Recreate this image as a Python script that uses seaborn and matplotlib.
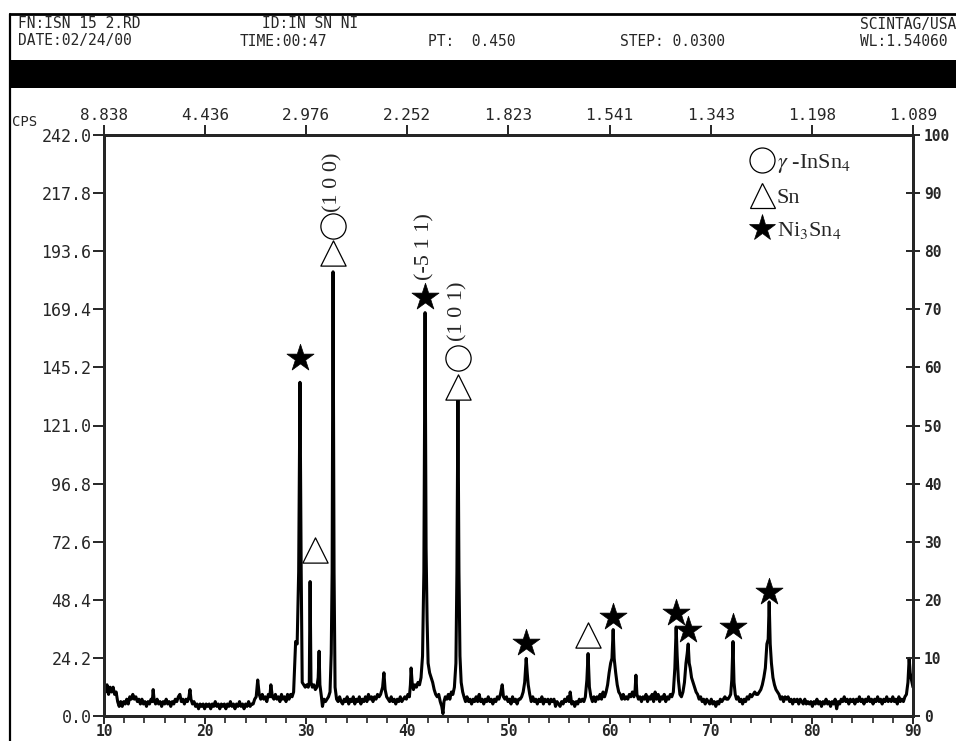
import numpy as np
import pandas as pd
import matplotlib
matplotlib.use("Agg")
import matplotlib.pyplot as plt
import seaborn as sns
from matplotlib.lines import Line2D
from matplotlib.patches import Rectangle

# ---------------- data ----------------
# XRD scan: (2-theta [deg], intensity [CPS])
scan = [
    (10.0, 12), (10.15, 10), (10.3, 13), (10.45, 9), (10.6, 12), (10.75, 10), (10.9, 12), (11.05, 9),
    (11.2, 10), (11.35, 6), (11.5, 4), (11.65, 6), (11.8, 4), (11.95, 6), (12.1, 5), (12.25, 7),
    (12.4, 5), (12.55, 8), (12.7, 7), (12.85, 9), (13.0, 7), (13.15, 8), (13.3, 6), (13.45, 7),
    (13.6, 5), (13.75, 7), (13.9, 5), (14.05, 6), (14.2, 4), (14.35, 6), (14.5, 5), (14.65, 7),
    (14.78, 6), (14.86, 11), (14.95, 7), (15.1, 5), (15.25, 7), (15.4, 5), (15.55, 6), (15.7, 4),
    (15.85, 6), (16.0, 5), (16.15, 7), (16.3, 5), (16.45, 6), (16.6, 4), (16.75, 6), (16.9, 5),
    (17.05, 7), (17.2, 6), (17.35, 8), (17.5, 9), (17.65, 6), (17.8, 7), (17.95, 5), (18.1, 7),
    (18.25, 6), (18.4, 8), (18.5, 11), (18.6, 7), (18.75, 5), (18.9, 6), (19.05, 4), (19.2, 5),
    (19.35, 3), (19.5, 5), (19.65, 4), (19.8, 5), (19.95, 3), (20.1, 5), (20.25, 4), (20.4, 5),
    (20.55, 3), (20.7, 5), (20.85, 4), (21.0, 6), (21.15, 4), (21.3, 5), (21.45, 3), (21.6, 5),
    (21.75, 4), (21.9, 5), (22.05, 3), (22.2, 5), (22.35, 4), (22.5, 6), (22.65, 4), (22.8, 5),
    (22.95, 3), (23.1, 5), (23.25, 4), (23.4, 6), (23.55, 4), (23.7, 5), (23.85, 3), (24.0, 5),
    (24.15, 4), (24.3, 6), (24.45, 4), (24.6, 5), (24.75, 5), (24.9, 7), (25.05, 8), (25.2, 15),
    (25.35, 9), (25.5, 7), (25.65, 9), (25.8, 7), (25.95, 8), (26.1, 6), (26.25, 9), (26.4, 8),
    (26.5, 13), (26.65, 8), (26.8, 7), (26.95, 9), (27.1, 7), (27.25, 8), (27.4, 6), (27.55, 9),
    (27.7, 7), (27.85, 8), (28.0, 6), (28.15, 9), (28.3, 7), (28.45, 9), (28.6, 8), (28.75, 10),
    (28.95, 31), (29.1, 30), (29.25, 60), (29.38, 139), (29.5, 60), (29.6, 14), (29.75, 13),
    (29.9, 12), (30.05, 13), (30.2, 12), (30.3, 14), (30.38, 56), (30.47, 14), (30.6, 12),
    (30.75, 13), (30.9, 11), (31.05, 12), (31.18, 16), (31.27, 27), (31.35, 13), (31.5, 8),
    (31.6, 4), (31.75, 7), (31.9, 6), (32.05, 7), (32.2, 8), (32.35, 10), (32.47, 26), (32.56, 60),
    (32.65, 185), (32.75, 60), (32.85, 12), (33.0, 7), (33.15, 6), (33.3, 8), (33.45, 6), (33.6, 5),
    (33.75, 7), (33.9, 6), (34.05, 8), (34.2, 5), (34.35, 7), (34.5, 6), (34.65, 8), (34.8, 5),
    (34.95, 7), (35.1, 6), (35.25, 8), (35.4, 5), (35.55, 7), (35.7, 6), (35.85, 8), (36.0, 6),
    (36.15, 9), (36.3, 7), (36.45, 8), (36.6, 6), (36.75, 8), (36.9, 7), (37.05, 9), (37.2, 8),
    (37.35, 9), (37.55, 12), (37.68, 18), (37.8, 11), (37.95, 8), (38.1, 7), (38.25, 6), (38.4, 8),
    (38.55, 6), (38.7, 7), (38.85, 5), (39.0, 7), (39.15, 6), (39.3, 8), (39.45, 6), (39.6, 7),
    (39.75, 8), (39.9, 7), (40.05, 9), (40.2, 8), (40.3, 13), (40.37, 20), (40.47, 14), (40.6, 11),
    (40.75, 13), (40.9, 12), (41.05, 14), (41.2, 13), (41.35, 16), (41.5, 25), (41.63, 60),
    (41.75, 168), (41.85, 70), (41.95, 40), (42.05, 22), (42.2, 18), (42.35, 16), (42.5, 14),
    (42.65, 11), (42.8, 9), (42.95, 8), (43.1, 9), (43.25, 6), (43.4, 4), (43.52, 1), (43.62, 6),
    (43.75, 8), (43.9, 7), (44.05, 9), (44.2, 7), (44.35, 10), (44.5, 9), (44.65, 12), (44.8, 22),
    (44.9, 60), (45.0, 133), (45.1, 60), (45.2, 25), (45.32, 14), (45.47, 10), (45.6, 8), (45.75, 6),
    (45.9, 8), (46.05, 6), (46.2, 7), (46.35, 5), (46.5, 7), (46.65, 6), (46.8, 8), (46.95, 6),
    (47.1, 9), (47.25, 6), (47.4, 7), (47.55, 5), (47.7, 7), (47.85, 6), (48.0, 8), (48.15, 6),
    (48.3, 7), (48.45, 5), (48.6, 7), (48.75, 6), (48.9, 8), (49.05, 7), (49.2, 9), (49.38, 13),
    (49.5, 8), (49.65, 7), (49.8, 8), (49.95, 6), (50.1, 7), (50.25, 5), (50.4, 8), (50.55, 6),
    (50.7, 7), (50.85, 5), (51.0, 7), (51.15, 7), (51.3, 8), (51.45, 10), (51.6, 14), (51.75, 24),
    (51.85, 18), (51.95, 13), (52.1, 9), (52.25, 6), (52.4, 8), (52.55, 6), (52.7, 7), (52.85, 5),
    (53.0, 7), (53.15, 6), (53.3, 8), (53.45, 5), (53.6, 7), (53.75, 6), (53.9, 7), (54.05, 5),
    (54.2, 7), (54.35, 6), (54.5, 7), (54.65, 4), (54.8, 6), (54.95, 5), (55.1, 4), (55.25, 6),
    (55.4, 5), (55.55, 7), (55.7, 6), (55.85, 8), (56.0, 6), (56.1, 10), (56.25, 5), (56.4, 6),
    (56.55, 4), (56.7, 6), (56.85, 5), (57.0, 7), (57.15, 6), (57.3, 7), (57.45, 6), (57.6, 8),
    (57.75, 15), (57.87, 26), (58.0, 12), (58.15, 8), (58.3, 6), (58.45, 8), (58.6, 6), (58.75, 8),
    (58.9, 7), (59.05, 9), (59.2, 7), (59.35, 10), (59.5, 8), (59.65, 10), (59.8, 13), (59.95, 18),
    (60.1, 22), (60.23, 24), (60.35, 36), (60.45, 24), (60.6, 18), (60.75, 13), (60.9, 10),
    (61.05, 9), (61.2, 7), (61.35, 9), (61.5, 7), (61.65, 8), (61.8, 7), (61.95, 9), (62.1, 8),
    (62.25, 10), (62.4, 8), (62.52, 11), (62.6, 17), (62.7, 9), (62.85, 7), (63.0, 8), (63.15, 6),
    (63.3, 8), (63.45, 7), (63.6, 9), (63.75, 6), (63.9, 8), (64.05, 7), (64.2, 9), (64.35, 6),
    (64.5, 10), (64.65, 7), (64.8, 9), (64.95, 6), (65.1, 8), (65.25, 7), (65.4, 9), (65.55, 6),
    (65.7, 8), (65.85, 7), (66.0, 9), (66.15, 8), (66.3, 10), (66.45, 20), (66.58, 37), (66.68, 25),
    (66.8, 15), (66.95, 9), (67.1, 8), (67.25, 10), (67.4, 14), (67.55, 22), (67.67, 26),
    (67.77, 30), (67.87, 22), (67.97, 20), (68.1, 16), (68.25, 14), (68.4, 12), (68.55, 10),
    (68.7, 9), (68.85, 7), (69.0, 8), (69.15, 6), (69.3, 7), (69.45, 5), (69.6, 7), (69.75, 6),
    (69.9, 5), (70.05, 7), (70.2, 5), (70.35, 6), (70.5, 4), (70.65, 6), (70.8, 5), (70.95, 7),
    (71.1, 6), (71.25, 7), (71.4, 8), (71.55, 7), (71.7, 7), (71.85, 8), (71.97, 9), (72.08, 15),
    (72.2, 31), (72.3, 14), (72.42, 9), (72.55, 7), (72.7, 8), (72.85, 6), (73.0, 7), (73.15, 5),
    (73.3, 7), (73.45, 6), (73.6, 8), (73.75, 7), (73.9, 9), (74.05, 8), (74.2, 9), (74.35, 10),
    (74.5, 9), (74.65, 9), (74.8, 10), (74.95, 11), (75.1, 13), (75.25, 16), (75.4, 20), (75.55, 30),
    (75.68, 32), (75.78, 47.5), (75.88, 30), (76.0, 22), (76.15, 16), (76.3, 13), (76.45, 11),
    (76.6, 10), (76.75, 9), (76.9, 7), (77.05, 8), (77.2, 6), (77.35, 8), (77.5, 7), (77.65, 8),
    (77.8, 6), (77.95, 7), (78.1, 5), (78.25, 7), (78.4, 6), (78.55, 7), (78.7, 5), (78.85, 7),
    (79.0, 6), (79.15, 5), (79.3, 7), (79.45, 5), (79.6, 6), (79.75, 5), (79.9, 6), (80.05, 4),
    (80.2, 6), (80.35, 5), (80.5, 7), (80.65, 5), (80.8, 6), (80.95, 4), (81.1, 6), (81.25, 5),
    (81.4, 7), (81.55, 5), (81.7, 6), (81.85, 4), (82.0, 6), (82.15, 5), (82.3, 7), (82.45, 3),
    (82.6, 6), (82.75, 5), (82.9, 7), (83.05, 6), (83.2, 8), (83.35, 6), (83.5, 7), (83.65, 5),
    (83.8, 7), (83.95, 6), (84.1, 7), (84.25, 5), (84.4, 7), (84.55, 6), (84.7, 8), (84.85, 6),
    (85.0, 7), (85.15, 5), (85.3, 7), (85.45, 6), (85.6, 8), (85.75, 6), (85.9, 7), (86.05, 5),
    (86.2, 7), (86.35, 6), (86.5, 8), (86.65, 6), (86.8, 7), (86.95, 5), (87.1, 7), (87.25, 6),
    (87.4, 8), (87.55, 6), (87.7, 7), (87.85, 6), (88.0, 8), (88.15, 6), (88.3, 7), (88.45, 5),
    (88.6, 8), (88.75, 6), (88.9, 7), (89.05, 6), (89.2, 8), (89.35, 9), (89.5, 14), (89.62, 24),
    (89.72, 18), (89.85, 15), (90.0, 12),
]

# phase markers above peaks
ni3sn4_x = [29.39, 41.75, 51.75, 60.35, 66.58, 67.77, 72.2, 75.78]
ni3sn4_y = [149.0, 174.6, 30.4, 41.2, 43.0, 36.0, 37.0, 51.7]
sn_x = [30.87, 32.65, 45.0, 57.87]
sn_y = [69.0, 193.0, 137.0, 33.7]
insn4_x = [32.65, 45.0]
insn4_y = [204.0, 149.0]

hkl_labels = ["(1 0 0)", "(-5 1 1)", "(1 0 1)"]
hkl_x = [32.65, 41.75, 45.0]
hkl_y = [210.0, 181.5, 156.0]

legend_labels = [r"$\gamma$ -InSn$_4$", "Sn", r"Ni$_3$Sn$_4$"]

# axes ticks
x_ticks = [10, 20, 30, 40, 50, 60, 70, 80, 90]
x_minor = [12, 14, 16, 18, 22, 24, 26, 28, 32, 34, 36, 38, 42, 44, 46, 48,
           52, 54, 56, 58, 62, 64, 66, 68, 72, 74, 76, 78, 82, 84, 86, 88]
cps_ticks = [0.0, 24.2, 48.4, 72.6, 96.8, 121.0, 145.2, 169.4, 193.6, 217.8, 242.0]
d_spacing = ["8.838", "4.436", "2.976", "2.252", "1.823", "1.541", "1.343", "1.198", "1.089"]
pct_ticks = [0, 10, 20, 30, 40, 50, 60, 70, 80, 90, 100]

header_row1 = [("FN:ISN 15 2.RD", 18), ("ID:IN SN NI", 262), ("SCINTAG/USA", 860)]
header_row2 = [("DATE:02/24/00", 18), ("TIME:00:47", 240), ("PT:  0.450", 428),
               ("STEP: 0.0300", 620), ("WL:1.54060", 860)]

# ---------------- drawing ----------------
sns.set_style("white")
plt.rcParams["font.family"] = ["DejaVu Sans Mono", "DejaVu Sans"]
plt.rcParams["mathtext.fontset"] = "stix"

W, H = 956, 741
fig = plt.figure(figsize=(W / 100, H / 100), dpi=100)
fig.patch.set_facecolor("white")

def fx(px):
    return px / W

def fy(py):
    return 1 - py / H

L, R, T, B = 104, 913, 135, 716
ax = fig.add_axes([fx(L), fy(B), (R - L) / W, (B - T) / H])

df = pd.DataFrame(scan, columns=["two_theta", "cps"])
sns.lineplot(data=df, x="two_theta", y="cps", ax=ax, color="black",
             linewidth=2.2, estimator=None, sort=False)

sns.scatterplot(x=ni3sn4_x, y=ni3sn4_y, marker="*", s=420, color="black",
                edgecolor="black", linewidth=0.5, ax=ax, zorder=5)
ax.scatter(sn_x, sn_y, marker="^", s=330, facecolors="white", edgecolors="black",
           linewidths=0.9, zorder=5)
ax.scatter(insn4_x, insn4_y, marker="o", s=330, facecolors="white", edgecolors="black",
           linewidths=0.9, zorder=5)
for lab, x, y in zip(hkl_labels, hkl_x, hkl_y):
    ax.text(x, y, lab, rotation=90, ha="center", va="bottom",
            family="Liberation Serif", fontsize=16, zorder=6)

ax.set_xlim(10, 90)
ax.set_ylim(0, 242)
ax.set_xlabel("")
ax.set_ylabel("")
ax.set_xticks(x_ticks)
ax.set_xticklabels([str(v) for v in x_ticks], fontsize=10.5, fontweight="bold")
ax.set_xticks(x_minor, minor=True)
ax.set_yticks(cps_ticks)
ax.set_yticklabels([f"{v:.1f}" for v in cps_ticks], fontsize=12)
ax.tick_params(axis="x", which="major", direction="out", length=6, width=1.4, pad=0,
               bottom=True, top=False)
ax.tick_params(axis="x", which="minor", direction="out", length=5, width=1.2,
               bottom=True, top=False)
ax.tick_params(axis="y", direction="out", length=8, width=1.4, pad=1, left=True)
for sp in ax.spines.values():
    sp.set_linewidth(2)
    sp.set_color("black")

# top axis: d-spacing
axt = ax.twiny()
axt.set_xlim(10, 90)
axt.set_xticks(x_ticks)
axt.set_xticklabels(d_spacing, fontsize=11.5)
axt.tick_params(axis="x", direction="out", length=7, width=1.4, pad=2)
axt.grid(False)

# right axis: percent
axr = ax.twinx()
axr.set_ylim(0, 100)
axr.set_yticks(pct_ticks)
axr.set_yticklabels([str(v) for v in pct_ticks], fontsize=10.5, fontweight="bold")
axr.tick_params(axis="y", direction="inout", length=10, width=1.4, pad=3)
axr.grid(False)
for a in (axt, axr):
    for sp in a.spines.values():
        sp.set_linewidth(2)

# legend
handles = [
    Line2D([], [], marker="o", ls="", mfc="white", mec="black", ms=18, mew=0.9),
    Line2D([], [], marker="^", ls="", mfc="white", mec="black", ms=18, mew=0.9),
    Line2D([], [], marker="*", ls="", mfc="black", mec="black", ms=20, mew=0.5),
]
leg = ax.legend(handles, legend_labels, loc="upper left",
                bbox_to_anchor=((740 - L) / (R - L), (B - 141) / (B - T)),
                frameon=False, handlelength=1.0, handletextpad=0.15,
                labelspacing=0.55, borderpad=0.0,
                prop={"family": "Liberation Serif", "size": 16})

# header block
fig.add_artist(Line2D([fx(10), fx(956)], [fy(14), fy(14)], color="black", lw=2))
fig.add_artist(Line2D([fx(10), fx(10)], [fy(14), fy(741)], color="black", lw=1.6))
fig.add_artist(Rectangle((fx(10), fy(88)), fx(946), 28 / H, transform=fig.transFigure,
                         facecolor="black", edgecolor="none"))
for txt, x in header_row1:
    fig.text(fx(x), fy(24), txt, fontsize=10.5, va="center", ha="left")
for txt, x in header_row2:
    fig.text(fx(x), fy(41), txt, fontsize=10.5, va="center", ha="left")
fig.text(fx(12), fy(122), "CPS", fontsize=10, va="center", ha="left")

fig.savefig("out.png", dpi=100, facecolor="white")
